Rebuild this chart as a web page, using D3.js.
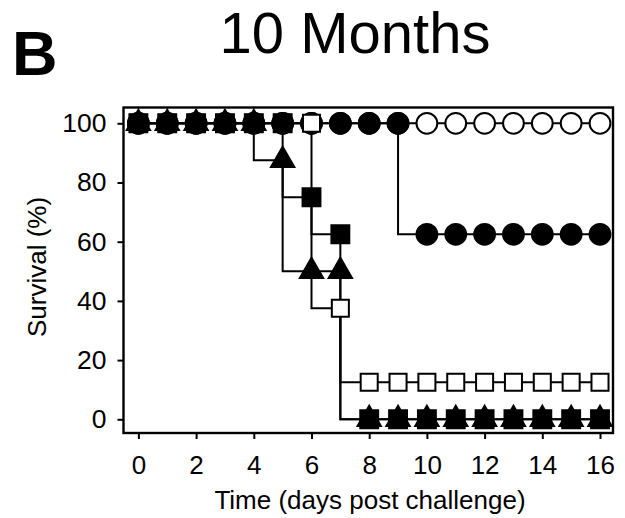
<!DOCTYPE html>
<html>
<head>
<meta charset="utf-8">
<script src="https://cdn.jsdelivr.net/npm/d3@7"></script>
<style>
  html, body { margin: 0; padding: 0; background: #fff; }
  svg { display: block; }
  text { font-family: "Liberation Sans", Arial, Helvetica, sans-serif; fill: #000; }
</style>
</head>
<body>
<script>
// Survival (%) per day after challenge, one array per group
const days = d3.range(0, 17);
const openCircle   = [100,100,100,100,100,100,100,100,100,100,100,100,100,100,100,100,100];
const filledCircle = [100,100,100,100,100,100,100,100,100,100,62.5,62.5,62.5,62.5,62.5,62.5,62.5];
const openSquare   = [100,100,100,100,100,100,100,37.5,12.5,12.5,12.5,12.5,12.5,12.5,12.5,12.5,12.5];
const filledSquare = [100,100,100,100,100,100,75,62.5,0,0,0,0,0,0,0,0,0];
const filledTriangle = [100,100,100,100,100,87.5,50,50,0,0,0,0,0,0,0,0,0];

const xTicks = [0, 2, 4, 6, 8, 10, 12, 14, 16];
const yTicks = [0, 20, 40, 60, 80, 100];

const title = "10 Months";
const panelLabel = "B";
const xLabel = "Time (days post challenge)";
const yLabel = "Survival (%)";

// bottom-to-top drawing order
const series = [
  { values: openCircle,     shape: d3.symbolCircle,   size: 340, fill: "#fff" },
  { values: filledCircle,   shape: d3.symbolCircle,   size: 340, fill: "#000" },
  { values: openSquare,     shape: d3.symbolSquare,   size: 290, fill: "#fff" },
  { values: filledSquare,   shape: d3.symbolSquare,   size: 320, fill: "#000" },
  { values: filledTriangle, shape: d3.symbolTriangle, size: 235, fill: "#000" }
];

const W = 625, H = 518;
const svg = d3.select("body").append("svg").attr("width", W).attr("height", H);

const x = d3.scaleLinear().domain([0, 16]).range([138.4, 600]);
const y = d3.scaleLinear().domain([0, 100]).range([419.3, 123.3]);

const frame = { left: 123.5, right: 613, top: 107.5, bottom: 433 };

// plot frame
svg.append("rect")
  .attr("x", frame.left).attr("y", frame.top)
  .attr("width", frame.right - frame.left).attr("height", frame.bottom - frame.top)
  .attr("fill", "none").attr("stroke", "#000").attr("stroke-width", 2.4);

// x axis
const xAxis = svg.append("g").attr("transform", `translate(0,${frame.bottom})`)
  .call(d3.axisBottom(x).tickValues(xTicks).tickSize(6).tickPadding(17).tickSizeOuter(0));
xAxis.select(".domain").remove();
xAxis.selectAll(".tick line").attr("stroke", "#000").attr("stroke-width", 2);
xAxis.selectAll(".tick text").attr("font-size", 26).attr("font-family", "Liberation Sans, Arial, sans-serif");

// y axis
const yAxis = svg.append("g").attr("transform", `translate(${frame.left},0)`)
  .call(d3.axisLeft(y).tickValues(yTicks).tickSize(6).tickPadding(11).tickSizeOuter(0));
yAxis.select(".domain").remove();
yAxis.selectAll(".tick line").attr("stroke", "#000").attr("stroke-width", 2);
yAxis.selectAll(".tick text").attr("font-size", 26.5).attr("font-family", "Liberation Sans, Arial, sans-serif");

// step lines
const line = d3.line()
  .x((d, i) => x(days[i]))
  .y(d => y(d))
  .curve(d3.curveStepBefore);

const plot = svg.append("g");
series.forEach(s => {
  plot.append("path")
    .attr("d", line(s.values))
    .attr("fill", "none")
    .attr("stroke", "#000")
    .attr("stroke-width", 2);
});

// markers
series.forEach(s => {
  const sym = d3.symbol().type(s.shape).size(s.size);
  plot.append("g").selectAll("path")
    .data(s.values)
    .join("path")
    .attr("transform", (d, i) => `translate(${x(days[i])},${y(d)})`)
    .attr("d", sym)
    .attr("fill", s.fill)
    .attr("stroke", "#000")
    .attr("stroke-width", 2);
});

// titles
svg.append("text")
  .attr("x", 355).attr("y", 53)
  .attr("text-anchor", "middle")
  .attr("font-size", 58)
  .text(title);

svg.append("text")
  .attr("x", 12).attr("y", 75)
  .attr("font-size", 63).attr("font-weight", "bold")
  .text(panelLabel);

svg.append("text")
  .attr("x", 370).attr("y", 509)
  .attr("text-anchor", "middle")
  .attr("font-size", 26)
  .text(xLabel);

svg.append("text")
  .attr("transform", "translate(46,267) rotate(-90)")
  .attr("text-anchor", "middle")
  .attr("font-size", 26)
  .text(yLabel);
</script>
</body>
</html>
